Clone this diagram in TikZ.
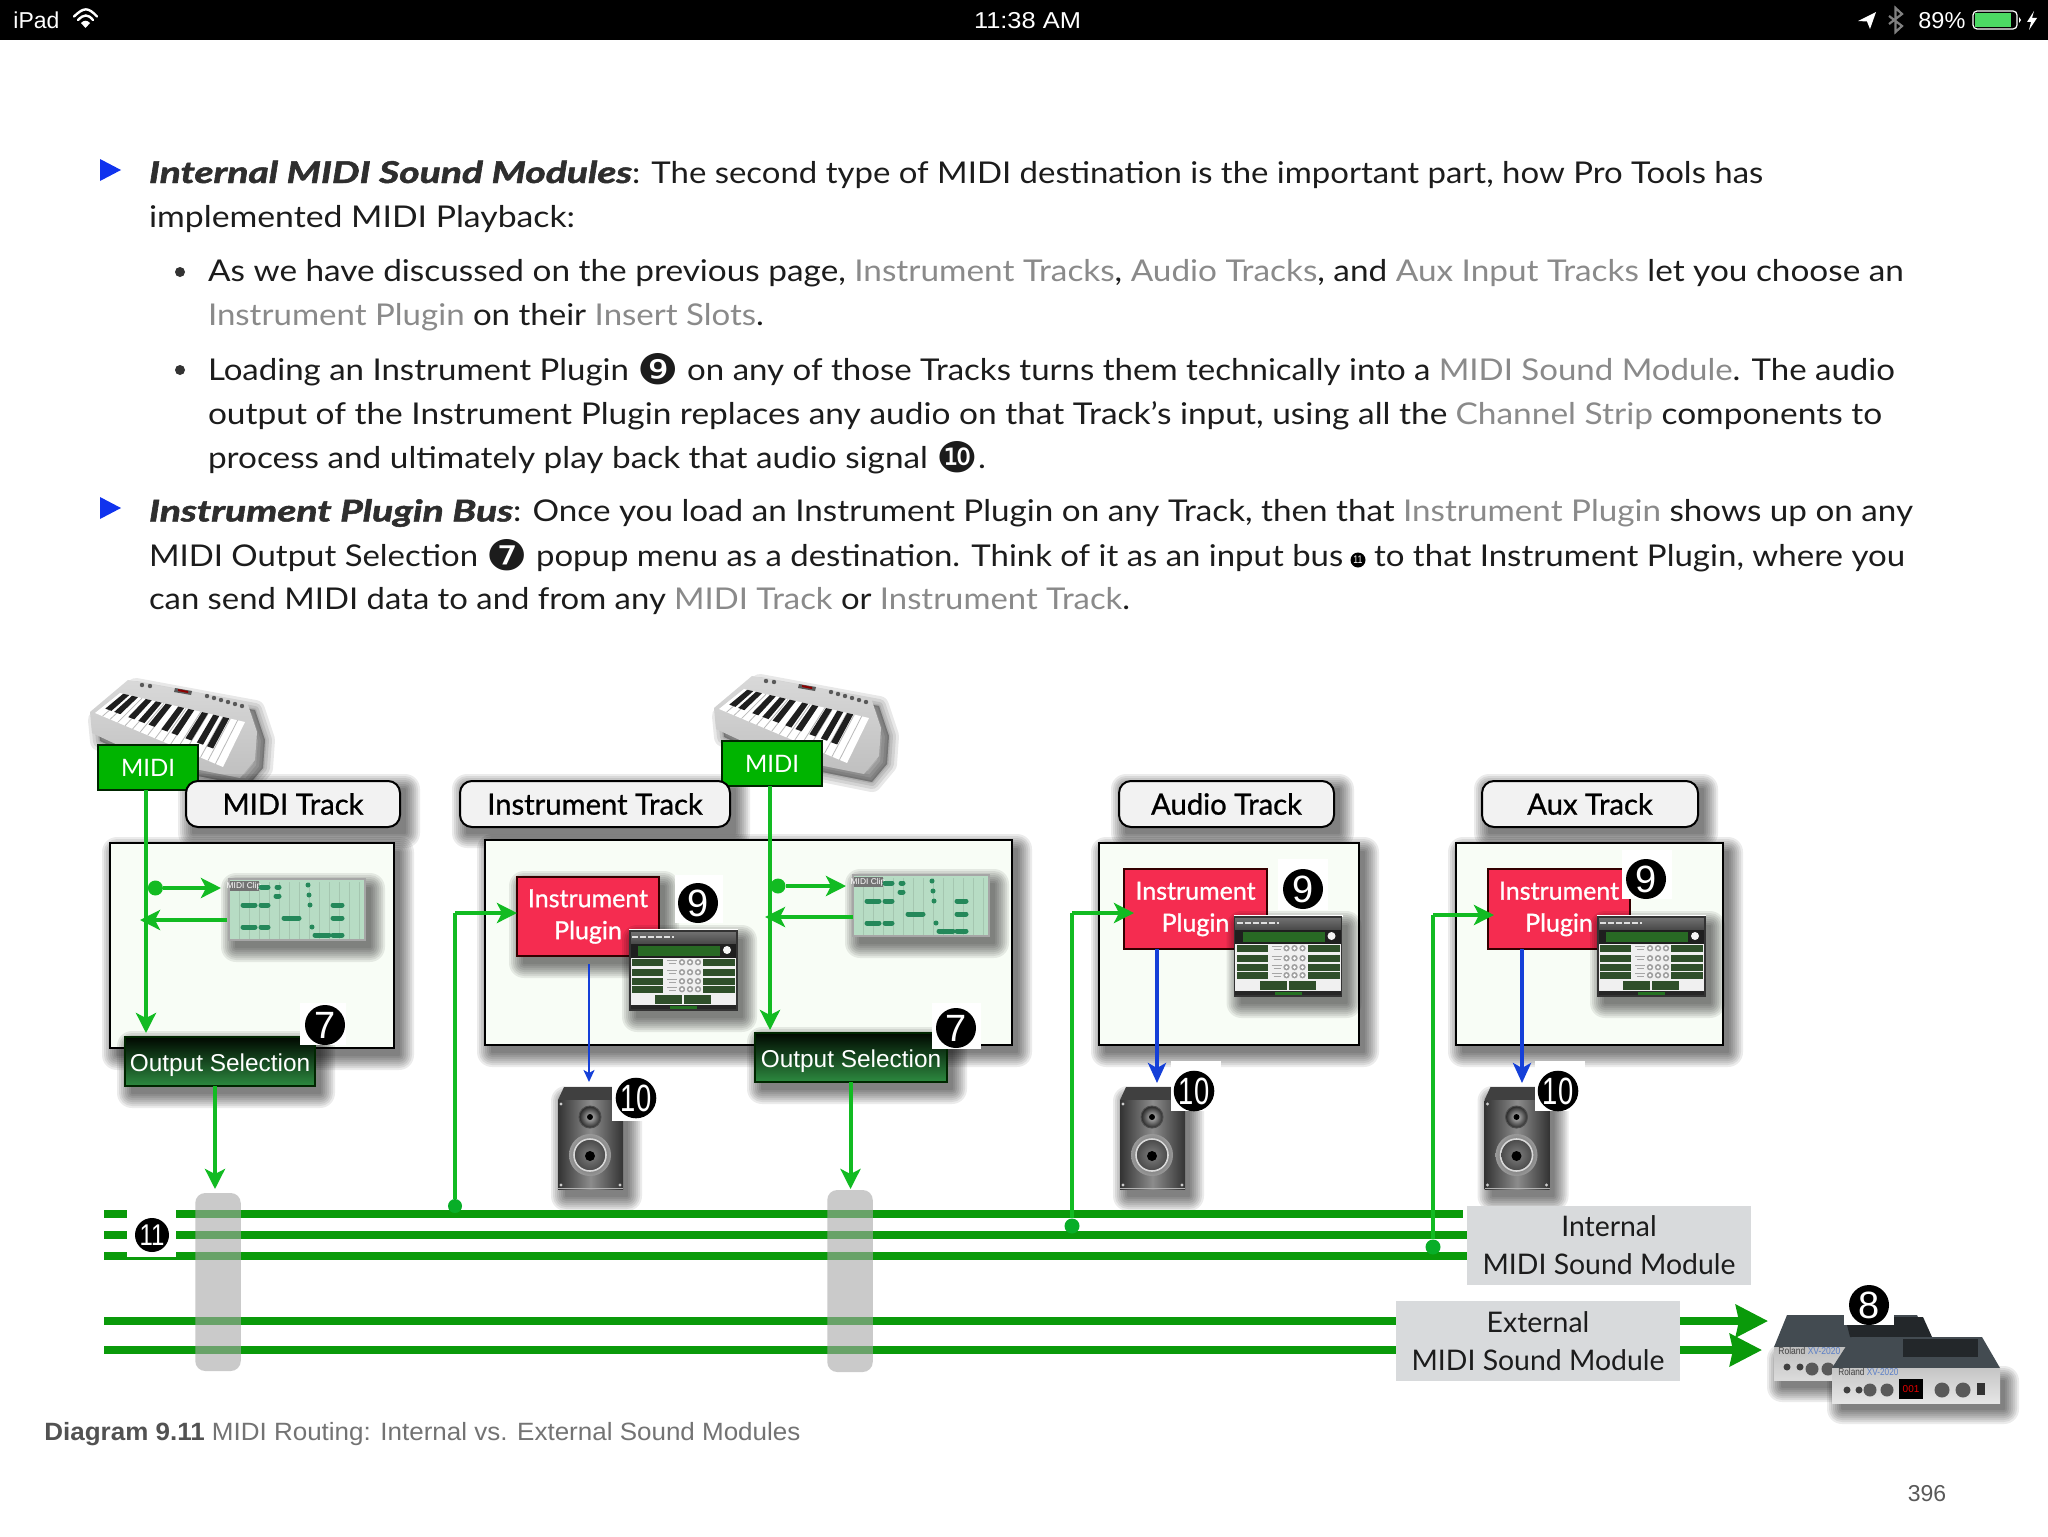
\documentclass[tikz,border=0pt]{standalone}
\usepackage{fontspec}
\usepackage{graphicx}
\usetikzlibrary{arrows.meta,calc,shapes.geometric}
\setmainfont{Lato}
\newfontfamily\hv{Liberation Sans}
\newfontfamily\djf{DejaVu Sans}
\newfontfamily\medf[FakeBold=.9]{Lato}
\newfontfamily\blkf[FakeBold=1.6]{Lato Bold Italic}
\definecolor{gline}{HTML}{12BB22}
\definecolor{gdot}{HTML}{08AE28}
\definecolor{gbus}{HTML}{0A9A0A}
\definecolor{gmidi}{HTML}{00B400}
\definecolor{redp}{HTML}{F52C50}
\definecolor{bluea}{HTML}{1540D8}
\definecolor{bluet}{HTML}{1033EE}
\definecolor{graybox}{HTML}{D8DADC}
\definecolor{grayt}{HTML}{8A8A8A}
\definecolor{txt}{HTML}{1C1C1C}
\definecolor{framef}{HTML}{F8FDF6}
\definecolor{clipf}{HTML}{B7DCC4}
\definecolor{noteg}{HTML}{24885A}
\definecolor{batt}{HTML}{4CD964}
\definecolor{osbot}{HTML}{2D8A40}
\definecolor{plug}{HTML}{2F4F2A}
\definecolor{slate}{HTML}{434B51}
\definecolor{slated}{HTML}{23272A}
\definecolor{rolblue}{HTML}{5A7FC8}
\newdimen\upx \upx=.5pt
\newcommand\gy[1]{\textcolor{grayt}{#1}}
\newcommand\dg[2][21]{\raisebox{-2.2pt}{\djf\fontsize{#1}{#1}\selectfont #2}}
% text line fitted to a width in px
\newcommand\tl[5]{\node[anchor=base west,inner sep=0pt,outer sep=0pt,text=txt,font=\fontsize{15}{18}\selectfont] (#1) at (#2,#3) {\resizebox{#4\upx}{\height}{#5}};}
% soft rectangle shadow
\newcommand\softrect[4]{\foreach \r in {14,12,10,8,6,4,2,0}{\fill[black,opacity=.08,rounded corners=\r*.5pt+.5pt] ({#1+6-\r},{#2+8-\r}) rectangle ({#3+6+\r},{#4+8+\r});}}
\newcommand\softpoly[1]{\foreach \w in {20,14,8,3}{\path[fill=black,draw=black,opacity=.09,line width=\w*.5pt,line join=round] #1;}}
\newcommand\badge[8]{\fill[white] (#4,#5) rectangle (#6,#7);
 \node[circle,fill=black,text=white,inner sep=0pt,minimum size=40*.5pt,font=\hv\fontsize{19}{19}\selectfont] (#1) at (#2,#3) {#8};}
\newcommand\midiclip[2]{\begin{scope}[shift={(#1,#2)}]
 \softrect{0}{0}{136}{61}
 \fill[clipf] (0,0) rectangle (136,61);
 \foreach \q in {10,20,...,130}{\draw[clipf!90!black,line width=.2pt] (\q,3) -- (\q,60);}
 \draw[gray!70,line width=1pt] (0,0) rectangle (136,61);
 \fill[gray!90!black] (1,2) rectangle (30,12);
 \node[text=white,inner sep=0pt,font=\hv\fontsize{4.2}{5}\selectfont] (mc#1) at (15,7) {MIDI Clip};
 \foreach \a/\b/\c in {13/27/26,31/40/26,13/27/48,31/40/48,54/71/39,103/114/26,103/114/39,85/101/56,103/114/56,31/40/8,47/51/8,46/51/17,78/80/6,79/81/16,80/82/26,82/84/48}{
  \draw[noteg,line width=2.5pt,line cap=round] (\a+1,\c) -- (\b-1,\c);}
\end{scope}}
\newcommand\plugin[2]{\begin{scope}[shift={(#1,#2)}]
 \softrect{0}{0}{107}{79}
 \fill[white] (-1,-2) rectangle (108,0);
 \fill[white!88!gray] (0,0) rectangle (107,79);
 \shade[top color=gray!90!black,bottom color=black!72] (0,0) rectangle (107,13);
 \fill[black!88] (0,13) rectangle (107,27);
 \draw[gray!25,line width=.8pt,dash pattern=on 3pt off 1pt] (2,6) -- (44,6);
 \fill[plug!85!green] (8,15) rectangle (90,25);
 \fill[white!92!gray] (97,19) circle[radius=4];
 \foreach \v in {28,38,47,55}{
  \fill[plug] (2,\v) rectangle (33,\v+6.5);
  \fill[plug] (73,\v) rectangle (105,\v+6.5);
  \draw[gray!70,line width=.5pt] (37,\v+1.5) -- (47,\v+1.5) (39,\v+4) -- (46,\v+4);
  \foreach \k in {52,60,68}{\fill[gray!75] (\k,\v+3.2) circle[radius=3.2];\fill[white] (\k,\v+3.2) circle[radius=1.6];}
 }
 \fill[plug] (25,64) rectangle (52,73);
 \fill[plug] (54,64) rectangle (81,73);
 \fill[black!85] (0,73.5) rectangle (107,79);
 \fill[plug!80!green] (40,75) rectangle (67,78);
 \draw[black!80,line width=.6pt] (0,0) rectangle (107,79);
\end{scope}}
\newcommand\speaker[2]{\begin{scope}[shift={(#1,#2)}]
 \softrect{1}{5}{64}{102}
 \fill[black!75] (6,0) -- (56,0) -- (65,13) -- (0,13) -- cycle;
 \shade[left color=black!80,right color=black!80,middle color=black!45] (0,13) rectangle (65,102);
 \draw[gray!60,line width=.6pt] (0,101.5) -- (65,101.5);
 \foreach \a/\b in {3/17,62/17,3/98,62/98}{\fill[gray!40] (\a,\b) circle[radius=1.7];}
 \shade[inner color=black!25,outer color=black!85] (32,30) circle[radius=11];
 \draw[black!70,line width=.5pt] (32,30) circle[radius=11];
 \fill[black] (32,30) circle[radius=3];
 \shade[inner color=black!70,outer color=black!40] (32,68) circle[radius=21];
 \draw[gray!30,line width=.8pt] (32,68) circle[radius=16];
 \shade[inner color=black!50,outer color=black!70] (32,68) circle[radius=15];
 \fill[black] (32,69) circle[radius=5];
\end{scope}}
\newcommand\keyboard[2]{\begin{scope}[shift={(#1,#2)}]
 \softpoly{[shift={(8,8)}] (128,680) -- (247,702) -- (257,732) -- (255,760) -- (240,778) -- (150,760) -- (92,733) -- (90,712) -- cycle}
 \shade[top color=gray!30,bottom color=gray!50] (128,680) -- (247,702) -- (257,732) -- (255,760) -- (240,778) -- (150,760) -- (92,733) -- (90,712) -- cycle;
 \coordinate (R1) at (120,693); \coordinate (R2) at (245,722);
 \coordinate (F1) at (95,713); \coordinate (F2) at (223,767);
 \fill[white] (R1) -- (R2) -- (F2) -- (F1) -- cycle;
 \foreach \i in {1,...,16}{\pgfmathsetmacro\t{\i/17}
  \draw[gray!55,line width=.4pt] ($(R1)!\t!(R2)$) -- ($(F1)!\t!(F2)$);}
 \foreach \i in {.05,.12,.23,.31,.39,.49,.57,.68,.77,.85}{\pgfmathsetmacro\t{\i-.024}\pgfmathsetmacro\u{\i+.024}
  \fill[black!88] ($(R1)!\t!(R2)$) -- ($(R1)!\u!(R2)$) -- ($($(R1)!\u!(R2)$)!.72!($(F1)!\u!(F2)$)$) -- ($($(R1)!\t!(R2)$)!.72!($(F1)!\t!(F2)$)$) -- cycle;}
 \fill[black!65] (175,688) -- (192,691) -- (191,695) -- (174,692) -- cycle;
 \fill[red!55!black] (178,689) -- (188,691) -- (188,693) -- (178,691) -- cycle;
 \foreach \a/\b in {142/685,150/686,207/696,214/698,221/700,228/702,235/704,242/706}{\fill[black!65] (\a,\b) circle[radius=2.2];}
\end{scope}}
\tikzset{
 wh/.style 2 args={minimum width=#1*.5pt,minimum height=#2*.5pt,inner sep=0pt,outer sep=0pt},
 framebox/.style={draw=black,line width=1.25pt,fill=framef},
 trackbox/.style={draw=black,line width=1pt,fill=black!5,rounded corners=6pt,text=black,font=\medf\fontsize{14.6}{15}\selectfont},
 midibox/.style={draw=black!85!green,line width=1.2pt,fill=gmidi,text=white,font=\fontsize{12}{14}\selectfont},
 redbox/.style={draw=black!80!red,line width=1.1pt,fill=redp,text=white,align=center,font=\medf\fontsize{12.5}{16}\selectfont},
 osbox/.style={draw=black!85!green,line width=1.1pt,top color=black!97!green,bottom color=osbot,text=white,text height=12pt,text depth=2.5pt,font=\hv\fontsize{12.2}{14}\selectfont},
 modbox/.style={fill=graybox,text=txt,align=center,font=\fontsize{14.2}{19}\selectfont},
 busbar/.style={fill=black!34,fill opacity=.6,rounded corners=5pt},
 bus/.style={gbus,line width=4pt},
 garrow/.style={gline,line width=2pt,-{Stealth[length=10pt,width=10pt,inset=2.5pt]}},
 gplain/.style={gline,line width=2pt},
 barrow/.style={bluea,line width=2pt,-{Stealth[length=10pt,width=9pt,inset=2.5pt]}},
 bthin/.style={bluea,line width=1pt,-{Stealth[length=6pt,width=5.5pt,inset=1.5pt]}},
 busarrow/.style={gbus,line width=4pt,-{Stealth[length=16pt,width=16pt,inset=1.5pt]}},
 dotg/.style={circle,fill=gline,inner sep=0pt,minimum size=7.5pt},
}
\begin{document}
\begin{tikzpicture}[x=.5pt,y=-.5pt]
\useasboundingbox (0,0) rectangle (2048,1536);
\fill[white] (0,0) rectangle (2048,1536);
% status bar
\fill[black] (0,0) rectangle (2048,40);
\node[anchor=base west,inner sep=0pt,text=white,font=\hv\fontsize{11.5}{13}\selectfont] (ipad) at (13,29) {\resizebox{46\upx}{\height}{iPad}};
\draw[white,line width=1.2pt,line cap=round] (74,16.5) .. controls (84,7) and (88,7) .. (97,16.5);
\draw[white,line width=1.2pt,line cap=round] (78,20) .. controls (84,14) and (88,14) .. (93,20);
\fill[white] (85.5,28) -- (81,23) .. controls (84,20) and (87,20) .. (90,23) -- cycle;
\node[text=white,inner sep=0pt,anchor=base,font=\hv\fontsize{11.5}{13}\selectfont] (clock) at (1027.5,29) {\resizebox{107\upx}{\height}{11:38 AM}};
\fill[white] (1858,21) -- (1876,12) -- (1870,29) -- (1867,21.5) -- cycle;
\draw[gray,line width=1.1pt] (1889,16) -- (1902,26) -- (1895.5,32) -- (1895.5,8) -- (1902,14) -- (1889,24);
\node[text=white,inner sep=0pt,anchor=base west,font=\hv\fontsize{11.5}{13}\selectfont] (pct) at (1918,29) {\resizebox{47\upx}{\height}{89\%}};
\draw[white,line width=.6pt,rounded corners=2pt] (1973,11) rectangle (2017,29);
\fill[batt] (1975,13) rectangle (2011,27);
\fill[white] (2019,17) -- (2021,20) -- (2019,23) -- cycle;
\fill[white] (2034,11) -- (2027,22) -- (2031,22) -- (2029,30) -- (2037,18) -- (2032,18) -- cycle;
% body text
\fill[bluet] (100,159) -- (121,170) -- (100,181) -- cycle;
\fill[bluet] (100,497) -- (121,508) -- (100,519) -- cycle;
\fill[black!80] (180,272) circle[radius=5];
\fill[black!80] (180,370) circle[radius=5];
\tl{l1a}{149}{183}{483}{\textcolor{black!82}{\blkf Internal MIDI Sound Modules}}
\tl{l1b}{632}{183}{1131}{: The second type of MIDI destination is the important part, how Pro Tools has}
\tl{l2}{149}{227}{426}{implemented MIDI Playback:}
\tl{l3}{208}{281}{1696}{As we have discussed on the previous page, \gy{Instrument Tracks}, \gy{Audio Tracks}, and \gy{Aux Input Tracks} let you choose an}
\tl{l4}{208}{325}{556}{\gy{Instrument Plugin} on their \gy{Insert Slots}.}
\tl{l5}{208}{380}{1687}{Loading an Instrument Plugin \dg{❾} on any of those Tracks turns them technically into a \gy{MIDI Sound Module}. The audio}
\tl{l6}{208}{424}{1674}{output of the Instrument Plugin replaces any audio on that Track's input, using all the \gy{Channel Strip} components to}
\tl{l7}{208}{468}{778}{process and ultimately play back that audio signal \dg{❿}.}
\tl{l8a}{149}{521.5}{364}{\textcolor{black!82}{\blkf Instrument Plugin Bus}}
\tl{l8b}{513}{521.5}{1400}{: Once you load an Instrument Plugin on any Track, then that \gy{Instrument Plugin} shows up on any}
\tl{l9a}{149}{566}{1194}{MIDI Output Selection \dg{❼} popup menu as a destination. Think of it as an input bus}
\node[circle,fill=black,text=white,inner sep=0pt,minimum size=7.5pt,font=\hv\fontsize{5.5}{5.5}\selectfont] (n11t) at (1358,560) {\scalebox{.8}[1]{11}};
\tl{l9b}{1374}{566}{531}{to that Instrument Plugin, where you}
\tl{l10}{149}{609}{981}{can send MIDI data to and from any \gy{MIDI Track} or \gy{Instrument Track}.}
% keyboards
\keyboard{0}{0}
\keyboard{624}{-4}
% frames
\softrect{110}{843}{394}{1048}
\softrect{485}{840}{1012}{1045}
\softrect{1099}{843}{1359}{1045}
\softrect{1456}{843}{1723}{1045}
\softrect{186}{780}{400}{826}
\softrect{460}{780}{730}{826}
\softrect{1119}{780}{1334}{826}
\softrect{1482}{780}{1698}{826}
\node[framebox,wh={284}{205}] (f1) at (252,945.5) {};
\node[framebox,wh={527}{205}] (f2) at (748.5,942.5) {};
\node[framebox,wh={260}{202}] (f3) at (1229,944) {};
\node[framebox,wh={267}{202}] (f4) at (1589.5,944) {};
\node[midibox,wh={100}{45}] (m1) at (148,767.5) {MIDI};
\node[midibox,wh={100}{45}] (m2) at (772,763.5) {MIDI};
\node[trackbox,wh={214}{46}] (t1) at (293,804) {MIDI Track};
\node[trackbox,wh={270}{46}] (t2) at (595,804) {Instrument Track};
\node[trackbox,wh={215}{46}] (t3) at (1226.5,804) {Audio Track};
\node[trackbox,wh={216}{46}] (t4) at (1590,804) {Aux Track};
% clips
\midiclip{229}{879}
\midiclip{853}{875}
% red boxes and plugins
\softrect{517}{877}{659}{956}
\node[redbox,wh={142}{79}] (r2) at (588,916.5) {Instrument\\Plugin};
\node[redbox,wh={143}{80}] (r3) at (1195.5,909) {Instrument\\Plugin};
\node[redbox,wh={142}{80}] (r4) at (1559,909) {Instrument\\Plugin};
\plugin{630}{931}
\plugin{1234.5}{917}
\plugin{1598}{917}
% output selection
\softrect{125}{1037}{315}{1086}
\softrect{755}{1033}{947}{1082}
\node[osbox,wh={190}{49}] (os1) at (220,1061.5) {Output Selection};
\node[osbox,wh={192}{49}] (os2) at (851,1057.5) {Output Selection};
% speakers
\speaker{558}{1087}
\speaker{1120}{1087}
\speaker{1484.5}{1087}
% module boxes
\node[modbox,wh={283.5}{79}] (int) at (1609,1245.5) {Internal\\MIDI Sound Module};
\node[modbox,wh={284}{80}] (ext) at (1538,1341) {External\\MIDI Sound Module};
% bus lines
\coordinate (b1) at (104,1214); \coordinate (b2) at (104,1235); \coordinate (b3) at (104,1256);
\coordinate (b4) at (104,1321); \coordinate (b5) at (104,1350);
\coordinate (e1) at (1463,1214);
\coordinate (a4) at (1768,1321); \coordinate (a5) at (1762,1350);
\draw[bus] (b1) -- (e1);
\draw[bus] (b2) -- (b2 -| int.west);
\draw[bus] (b3) -- (b3 -| int.west);
\draw[bus] (b4) -- (b4 -| ext.west);
\draw[bus] (b5) -- (b5 -| ext.west);
\draw[busarrow] (b4 -| ext.east) -- (a4);
\draw[busarrow] (b5 -| ext.east) -- (a5);
% gray bars
\node[busbar,wh={45.5}{178}] (bar1) at (218,1282) {};
\node[busbar,wh={45.5}{182}] (bar2) at (850,1281) {};
% connectors: MIDI Track
\coordinate (c1) at (146,1033);
\draw[garrow] (m1.south -| c1) -- (c1);
\node[dotg] (d1) at (155.4,888) {};
\coordinate (c2) at (221,888);
\draw[garrow] (d1) -- (c2);
\coordinate (c3s) at (227,920); \coordinate (c3) at (140,920);
\draw[garrow] (c3s) -- (c3);
\coordinate (c4) at (215,1189);
\draw[garrow] (os1.south -| c4) -- (c4);
% Instrument Track
\coordinate (c5) at (770,1030);
\draw[garrow] (m2.south -| c5) -- (c5);
\node[dotg] (d2) at (778,886) {};
\coordinate (c6) at (846,886);
\draw[garrow] (d2) -- (c6);
\coordinate (c7s) at (853,917); \coordinate (c7) at (765,917);
\draw[garrow] (c7s) -- (c7);
\coordinate (c8) at (850.5,1189);
\draw[garrow] (os2.south -| c8) -- (c8);
\node[dotg,fill=gdot,minimum size=7pt] (d3) at (455,1206) {};
\coordinate (k3) at (455,913);
\draw[gplain] (d3) -- (k3);
\draw[garrow] (k3) -- (r2.west |- k3);
\node[dotg,fill=gdot] (d4) at (1072,1226) {};
\coordinate (k4) at (1072,913);
\draw[gplain] (d4) -- (k4);
\coordinate (k4e) at (1134,913);
\draw[garrow] (k4) -- (k4e);
\node[dotg,fill=gdot] (d5) at (1433,1247) {};
\coordinate (k5) at (1433,915);
\draw[gplain] (d5) -- (k5);
\coordinate (k5e) at (1494,915);
\draw[garrow] (k5) -- (k5e);
% blue arrows
\coordinate (u1) at (589,964); \coordinate (u2) at (589,1082);
\draw[bthin] (u1) -- (u2);
\coordinate (u3) at (1157,1083);
\draw[barrow] (r3.south -| u3) -- (u3);
\coordinate (u4) at (1522,1083);
\draw[barrow] (r4.south -| u4) -- (u4);
% external modules
\softrect{1775}{1350}{1930}{1380}
\softrect{1835}{1372}{1999}{1402}
\fill[slate] (1787,1315) -- (1917,1315) -- (1932,1347) -- (1774,1347) -- cycle;
\fill[slated] (1845,1317) -- (1923,1317) -- (1932,1337) -- (1850,1337) -- cycle;
\shade[top color=gray!50,bottom color=gray!28] (1774,1347) rectangle (1932,1380);
\node[anchor=west,inner sep=0pt,font=\hv\fontsize{5}{5}\selectfont] (rol1) at (1778,1351) {\resizebox{62\upx}{\height}{\textcolor{black!75}{Roland} \textcolor{rolblue}{XV-2020}}};
\foreach \a in {1787,1800}{\fill[black!75] (\a,1367) circle[radius=3.5];}
\foreach \a in {1812,1828}{\fill[black!65] (\a,1369) circle[radius=6.5];}
\fill[slate] (1852,1337) -- (1982,1337) -- (2000,1368) -- (1832,1368) -- cycle;
\fill[slated] (1903,1339) rectangle (1978,1357);
\shade[top color=gray!45,bottom color=gray!20] (1832,1368) rectangle (2000,1403);
\node[anchor=west,inner sep=0pt,font=\hv\fontsize{5}{5}\selectfont] (rol2) at (1838,1372) {\resizebox{60\upx}{\height}{\textcolor{black!75}{Roland} \textcolor{rolblue}{XV-2020}}};
\foreach \a in {1847,1859}{\fill[black!75] (\a,1390) circle[radius=3.5];}
\foreach \a in {1870,1887}{\fill[black!65] (\a,1390) circle[radius=6.5];}
\foreach \a in {1942,1963}{\fill[black!65] (\a,1390) circle[radius=7.5];}
\fill[black] (1899,1379) rectangle (1923,1399);
\node[inner sep=0pt,text=red!90!black,font=\hv\fontsize{5}{5}\selectfont] (led) at (1911,1389) {001};
\fill[black!80] (1977,1383) rectangle (1985,1395);
% badges
\badge{n7a}{325}{1025}{300}{1003}{346}{1045}{7}
\badge{n7b}{956}{1028}{932}{1003}{981}{1049}{7}
\badge{n9a}{698}{903}{675}{875}{723}{923}{9}
\badge{n9b}{1303}{889}{1278}{859}{1328}{910}{9}
\badge{n9c}{1646}{879}{1622}{850}{1672}{899}{9}
\badge{n10a}{636}{1098}{612}{1068}{662}{1121}{\scalebox{.72}[1]{10}}
\badge{n10b}{1194}{1091}{1171}{1061}{1221}{1111}{\scalebox{.72}[1]{10}}
\badge{n10c}{1558}{1091}{1535}{1061}{1585}{1111}{\scalebox{.72}[1]{10}}
\badge{n8}{1869}{1305}{1844}{1285}{1894}{1325}{8}
\fill[white] (127,1210) rectangle (176,1257);
\node[circle,fill=black,text=white,inner sep=0pt,minimum size=34*.5pt,font=\hv\fontsize{15}{15}\selectfont] (n11) at (152,1235) {\scalebox{.8}[1]{11}};
% caption
\node[anchor=base west,inner sep=0pt,font=\hv\fontsize{12.5}{15}\selectfont] (cap) at (44,1440) {\resizebox{756\upx}{\height}{\textcolor{black!68}{\bfseries Diagram 9.11} \textcolor{black!55}{MIDI Routing: Internal vs. External Sound Modules}}};
\node[inner sep=0pt,anchor=base,text=black!65,font=\hv\fontsize{11.5}{13}\selectfont] (pg) at (1927,1501) {396};
\end{tikzpicture}
\end{document}
